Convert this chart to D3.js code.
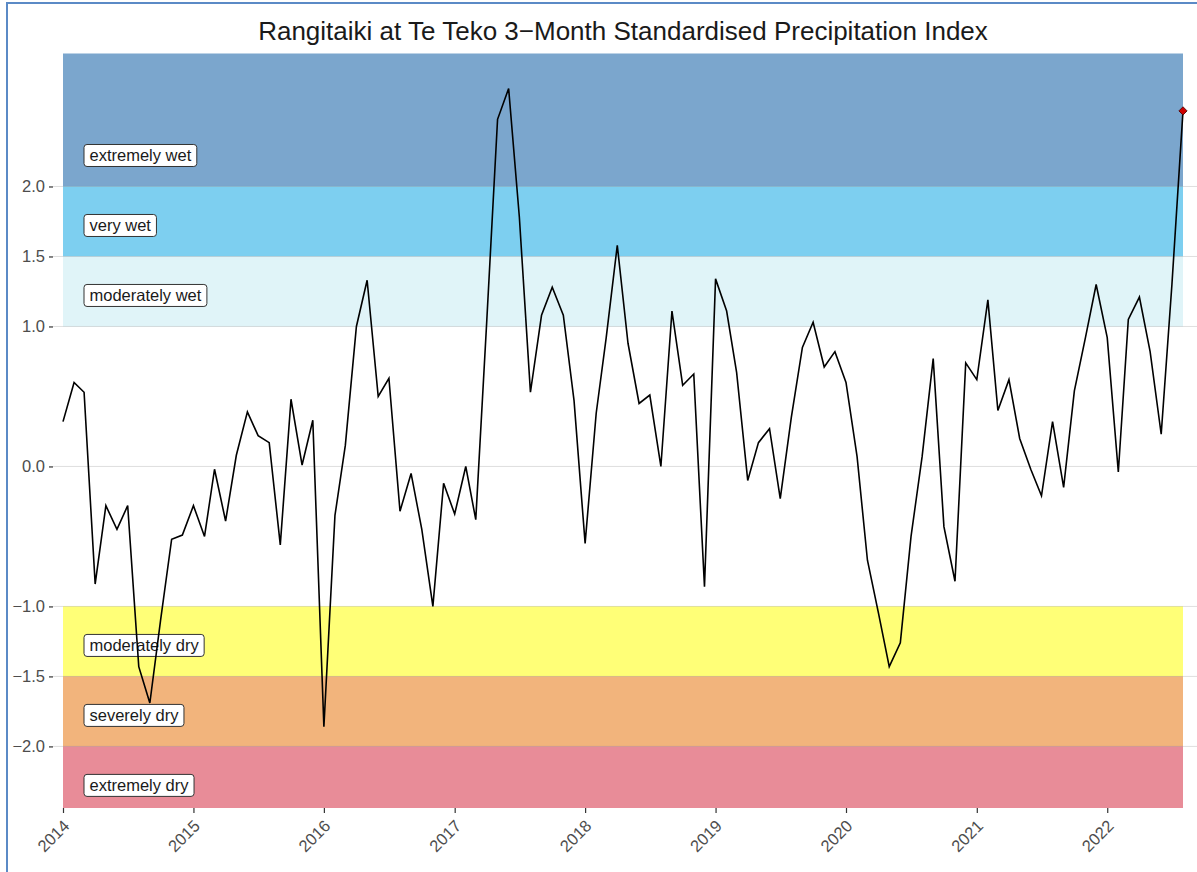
<!DOCTYPE html>
<html>
<head>
<meta charset="utf-8">
<script src="https://cdn.jsdelivr.net/npm/d3@7"></script>
<style>
  html, body { margin: 0; padding: 0; background: white; }
  svg { display: block; font-family: "Liberation Sans", Arial, sans-serif; }
</style>
</head>
<body>
<svg width="1197" height="872"></svg>
<script>
const title = "Rangitaiki at Te Teko 3\u2212Month Standardised Precipitation Index"
const startMonth = new Date(2014, 0, 1)
const endMonth = new Date(2022, 7, 1)

// monthly SPI values, Jan 2014 .. Aug 2022
const spi = [
    0.32, 0.60, 0.53, -0.84, -0.28, -0.45, -0.28, -1.43, -1.69, -1.10, -0.52, -0.49,
    -0.28, -0.50, -0.02, -0.39, 0.08, 0.39, 0.22, 0.17, -0.56, 0.48, 0.01, 0.33,
    -1.86, -0.35, 0.15, 1.00, 1.33, 0.50, 0.63, -0.32, -0.05, -0.45, -1.00, -0.12,
    -0.34, 0.00, -0.38, 1.05, 2.48, 2.70, 1.78, 0.53, 1.08, 1.28, 1.08, 0.47,
    -0.55, 0.38, 0.92, 1.58, 0.88, 0.45, 0.51, 0.00, 1.11, 0.58, 0.66, -0.86,
    1.34, 1.11, 0.67, -0.10, 0.17, 0.27, -0.23, 0.35, 0.85, 1.03, 0.71, 0.82,
    0.60, 0.07, -0.67, -1.05, -1.43, -1.26, -0.50, 0.07, 0.77, -0.43, -0.82, 0.74,
    0.62, 1.19, 0.40, 0.62, 0.20, -0.02, -0.21, 0.32, -0.15, 0.54, 0.92, 1.30,
    0.92, -0.04, 1.05, 1.21, 0.82, 0.23, 1.30, 2.54
]

const bandNames = ["extremely wet", "very wet", "moderately wet", "moderately dry", "severely dry", "extremely dry"]
const bandLow = [2, 1.5, 1, -1.5, -2, -Infinity]
const bandHigh = [Infinity, 2, 1.5, -1, -1.5, -2]
const bandLabelAt = [2.25, 1.75, 1.25, -1.25, -1.75, -2.25]
const bandColors = ["#7ba6cd", "#7dcff0", "#e0f4f8", "#ffff77", "#f2b47c", "#e88c98"]

const yTicks = [-2, -1.5, -1, 0, 1, 1.5, 2]
const xTickYears = [2014, 2015, 2016, 2017, 2018, 2019, 2020, 2021, 2022]

function drawChart() {
    const svg = d3.select("svg")
    const panelLeft = 53
    const panelRight = 1197

    const months = d3.timeMonth.range(startMonth, d3.timeMonth.offset(endMonth, 1))
    const points = months.map((d, i) => ({ date: d, value: spi[i] }))

    const x = d3.scaleTime().domain([startMonth, endMonth]).range([63, 1183])
    const y = d3.scaleLinear().domain([-2.44, 2.95]).range([808, 53.5])
    const [yMin, yMax] = y.domain()

    // frame
    svg.append("path")
        .attr("d", "M7,872 V3 H1197")
        .attr("fill", "none")
        .attr("stroke", "#5b8ac6")
        .attr("stroke-width", 2)

    // bands
    svg.append("g").selectAll("rect")
        .data(bandNames)
        .enter()
        .append("rect")
        .attr("x", x(startMonth))
        .attr("width", x(endMonth) - x(startMonth))
        .attr("y", (_, i) => y(Math.min(bandHigh[i], yMax)))
        .attr("height", (_, i) => y(Math.max(bandLow[i], yMin)) - y(Math.min(bandHigh[i], yMax)))
        .attr("fill", (_, i) => bandColors[i])

    // horizontal grid
    svg.append("g").selectAll("line")
        .data(yTicks)
        .enter()
        .append("line")
        .attr("x1", panelLeft)
        .attr("x2", panelRight)
        .attr("y1", d => y(d))
        .attr("y2", d => y(d))
        .attr("stroke", "rgba(0,0,0,0.13)")
        .attr("stroke-width", 1)

    // y axis
    const yAxis = svg.append("g")
        .attr("transform", `translate(${panelLeft},0)`)
        .call(d3.axisLeft(y).tickValues(yTicks).tickFormat(d3.format(".1f")).tickSize(4).tickPadding(4))
    yAxis.select(".domain").remove()
    yAxis.selectAll(".tick line").attr("stroke", "#333").attr("stroke-width", 1.2)
    yAxis.selectAll(".tick text")
        .attr("fill", "#4d4d4d")
        .style("font-size", "16.5px")
        .style("font-family", "Liberation Sans, Arial, sans-serif")

    // x axis
    const xAxis = svg.append("g")
        .attr("transform", `translate(0,${y(yMin)})`)
        .call(d3.axisBottom(x).tickValues(xTickYears.map(yr => new Date(yr, 0, 1))).tickFormat(d3.timeFormat("%Y")).tickSize(5))
    xAxis.select(".domain").remove()
    xAxis.selectAll(".tick line").attr("stroke", "#333").attr("stroke-width", 1.2)
    xAxis.selectAll(".tick text")
        .attr("fill", "#4d4d4d")
        .attr("y", 0)
        .attr("dy", 0)
        .attr("transform", "translate(7,19) rotate(-45)")
        .attr("text-anchor", "end")
        .style("font-size", "16.5px")
        .style("font-family", "Liberation Sans, Arial, sans-serif")

    // band labels
    const labels = svg.append("g").selectAll("g")
        .data(bandNames)
        .enter()
        .append("g")
        .attr("transform", (_, i) => `translate(84,${y(bandLabelAt[i]) + 4})`)
    labels.append("text")
        .attr("x", 5.5)
        .attr("dy", "0.36em")
        .attr("fill", "#1a1a1a")
        .style("font-size", "16.5px")
        .text(d => d)
    labels.insert("rect", "text")
        .attr("x", 0)
        .attr("y", -11)
        .attr("height", 22)
        .attr("rx", 3)
        .attr("width", function () {
            return this.parentNode.querySelector("text").getComputedTextLength() + 11
        })
        .attr("fill", "white")
        .attr("stroke", "#333")
        .attr("stroke-width", 1)

    // SPI line
    svg.append("path")
        .datum(points)
        .attr("d", d3.line().x(d => x(d.date)).y(d => y(d.value)))
        .attr("fill", "none")
        .attr("stroke", "black")
        .attr("stroke-width", 1.6)
        .attr("stroke-linejoin", "miter")

    // latest value marker
    const last = points[points.length - 1]
    svg.append("path")
        .attr("d", d3.symbol().type(d3.symbolSquare).size(34)())
        .attr("transform", `translate(${x(last.date)},${y(last.value)}) rotate(45)`)
        .attr("fill", "#cc0000")
        .attr("stroke", "#4d0000")
        .attr("stroke-width", 0.8)

    // title
    svg.append("text")
        .attr("x", 623)
        .attr("y", 40)
        .attr("text-anchor", "middle")
        .attr("fill", "#1a1a1a")
        .style("font-size", "26px")
        .text(title)
}
drawChart()
</script>
</body>
</html>
